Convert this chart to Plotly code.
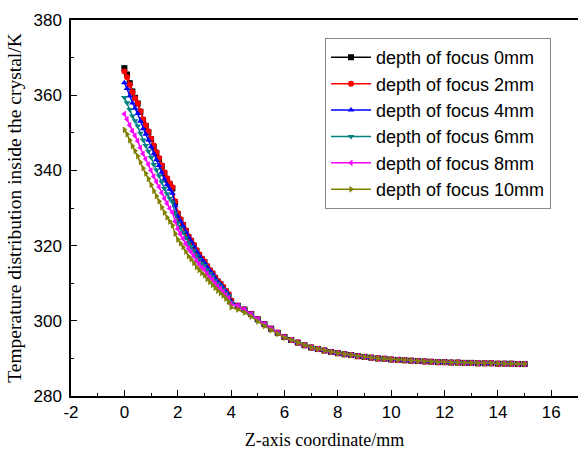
import plotly.graph_objects as go

# x positions (mm)
x_head = [0.0, 0.1, 0.2, 0.3, 0.4, 0.5, 0.6, 0.7, 0.8, 0.9, 1.0, 1.1, 1.2, 1.3, 1.4, 1.5, 1.6, 1.7, 1.8, 1.9,
          2.0, 2.1, 2.2, 2.3, 2.4, 2.5, 2.6, 2.7, 2.8, 2.9, 3.0, 3.1, 3.2, 3.3, 3.4, 3.5, 3.6, 3.7, 3.8, 3.9, 4.0]
x_tail = [4.25, 4.5, 4.75, 5.0, 5.25, 5.5, 5.75, 6.0, 6.25, 6.5, 6.75, 7.0, 7.25, 7.5, 7.75, 8.0, 8.25, 8.5,
          8.75, 9.0, 9.25, 9.5, 9.75, 10.0, 10.25, 10.5, 10.75, 11.0, 11.25, 11.5, 11.75, 12.0, 12.25, 12.5,
          12.75, 13.0, 13.25, 13.5, 13.75, 14.0, 14.25, 14.5, 14.75, 15.0]

# temperatures (K), steep region x = 0..4
t0_head = [367.2, 365.5, 363.2, 361.0, 359.3, 357.8, 355.6, 353.4, 351.8, 350.2, 348.3, 346.3, 344.6, 343.0,
           341.1, 339.2, 337.6, 336.3, 335.2, 331.5, 328.4, 326.8, 325.4, 323.9, 322.3, 321.2, 320.0, 318.6,
           317.5, 316.4, 315.6, 314.4, 313.3, 312.5, 311.4, 310.4, 309.7, 308.8, 307.8, 306.9, 305.2]
t2_head = [366.3, 364.8, 362.8, 360.8, 359.2, 357.8, 355.7, 353.6, 352.0, 350.4, 348.5, 346.6, 344.9, 343.3,
           341.4, 339.5, 337.9, 336.6, 335.5, 331.8, 328.7, 327.1, 325.6, 324.1, 322.5, 321.4, 320.2, 318.8,
           317.7, 316.6, 315.8, 314.6, 313.5, 312.7, 311.6, 310.6, 309.9, 309.0, 308.0, 307.1, 305.4]
t4_head = [363.3, 361.8, 359.8, 357.9, 356.5, 355.1, 353.1, 351.1, 349.6, 348.1, 346.3, 344.4, 342.8, 341.3,
           339.5, 337.7, 336.2, 335.0, 333.9, 330.6, 327.8, 326.5, 325.2, 323.7, 322.2, 321.1, 319.9, 318.5,
           317.4, 316.3, 315.5, 314.3, 313.3, 312.5, 311.4, 310.4, 309.7, 308.8, 307.8, 306.9, 305.2]
t6_head = [359.4, 358.0, 356.2, 354.5, 353.2, 351.8, 349.9, 348.1, 346.6, 345.1, 343.4, 341.6, 340.1, 338.6,
           336.9, 335.2, 333.8, 332.6, 331.6, 328.6, 326.0, 324.7, 323.5, 322.1, 320.7, 319.7, 318.6, 317.3,
           316.3, 315.3, 314.7, 313.6, 312.6, 311.8, 310.8, 309.9, 309.2, 308.4, 307.4, 306.6, 304.9]
t8_head = [355.0, 353.6, 352.0, 350.5, 349.2, 347.8, 346.0, 344.4, 343.0, 341.6, 340.0, 338.4, 337.0, 335.6,
           334.0, 332.5, 331.2, 329.9, 328.8, 326.4, 324.4, 323.0, 321.8, 320.5, 319.2, 318.3, 317.2, 316.0,
           315.1, 314.2, 313.6, 312.5, 311.6, 310.9, 310.0, 309.1, 308.5, 307.7, 306.8, 306.0, 304.4]
t10_head = [350.8, 349.6, 348.0, 346.5, 345.2, 343.8, 342.2, 340.6, 339.2, 337.8, 336.2, 334.6, 333.2, 331.8,
            330.2, 328.8, 327.5, 326.4, 325.4, 323.2, 321.6, 320.6, 319.6, 318.4, 317.2, 316.4, 315.4, 314.3,
            313.5, 312.7, 312.1, 311.1, 310.3, 309.6, 308.8, 308.0, 307.4, 306.7, 305.9, 305.1, 303.6]

# slow-decay region x = 4.25..15 (curves coincide)
t_tail = [304.0, 303.0, 301.8, 300.4, 299.1, 297.9, 296.8, 295.7, 294.9, 294.2, 293.5, 292.9, 292.5, 292.1,
          291.7, 291.4, 291.1, 290.9, 290.6, 290.4, 290.2, 290.0, 289.9, 289.7, 289.6, 289.5, 289.4, 289.3,
          289.2, 289.1, 289.0, 289.0, 288.9, 288.9, 288.8, 288.8, 288.7, 288.7, 288.7, 288.6, 288.6, 288.6,
          288.5, 288.5]
t10_tail_start = [303.0, 302.2, 301.1, 299.8, 298.6, 297.5, 296.5, 295.5]

names = ["depth of focus 0mm", "depth of focus 2mm", "depth of focus 4mm",
         "depth of focus 6mm", "depth of focus 8mm", "depth of focus 10mm"]
heads = [t0_head, t2_head, t4_head, t6_head, t8_head, t10_head]
colors = ["#000000", "#FF0000", "#0000FF", "#008080", "#FF00FF", "#808000"]
symbols = ["square", "circle", "triangle-up", "triangle-down", "triangle-left", "triangle-right"]

x_tickvals = [-2, 0, 2, 4, 6, 8, 10, 12, 14, 16]
x_ticktext = ["-2", "0", "2", "4", "6", "8", "10", "12", "14", "16"]
y_tickvals = [280, 300, 320, 340, 360, 380]

x_all = x_head + x_tail
fig = go.Figure()
for i, (nm, hd, c, s) in enumerate(zip(names, heads, colors, symbols)):
    if i == 5:
        y_all = hd + t10_tail_start + t_tail[len(t10_tail_start):]
    else:
        y_all = hd + t_tail
    fig.add_trace(go.Scatter(
        x=x_all, y=y_all, name=nm, mode="lines+markers",
        line=dict(color=c, width=1.5),
        marker=dict(symbol=s, size=6, color=c, line=dict(width=0)),
    ))

fig.update_layout(
    width=579, height=450,
    margin=dict(l=71, r=1, t=20, b=54),
    paper_bgcolor="white", plot_bgcolor="white",
    font=dict(family="Liberation Sans, Arial", size=17, color="black"),
    showlegend=True,
    legend=dict(
        x=0.501, y=0.952, xanchor="left", yanchor="top",
        bordercolor="#888888", borderwidth=1, bgcolor="white",
        font=dict(family="Liberation Sans, Arial", size=18, color="black"),
        tracegroupgap=0, itemwidth=40,
    ),
)
fig.update_xaxes(
    range=[-2, 17], tickmode="array", tickvals=x_tickvals, ticktext=x_ticktext,
    ticks="inside", ticklen=6, tickwidth=1.2, tickcolor="black",
    minor=dict(tickvals=[-1, 1, 3, 5, 7, 9, 11, 13, 15], ticks="inside", ticklen=3, tickcolor="black"),
    showline=True, linecolor="black", linewidth=1.5, mirror=True,
    showgrid=False, zeroline=False,
    title=dict(text="Z-axis coordinate/mm", font=dict(family="Liberation Serif, Times New Roman", size=18),
               standoff=12),
    tickfont=dict(size=17),
)
fig.update_yaxes(
    range=[280, 380], tickmode="array", tickvals=y_tickvals,
    ticks="inside", ticklen=6, tickwidth=1.2, tickcolor="black",
    minor=dict(tickvals=[290, 310, 330, 350, 370], ticks="inside", ticklen=3, tickcolor="black"),
    showline=True, linecolor="black", linewidth=1.5, mirror=False,
    showgrid=False, zeroline=False, ticklabelstandoff=4,
    title=dict(text="Temperature distribution inside the crystal/K",
               font=dict(family="Liberation Serif, Times New Roman", size=19.5), standoff=7),
    tickfont=dict(size=17),
)

fig.write_html("out.html")
